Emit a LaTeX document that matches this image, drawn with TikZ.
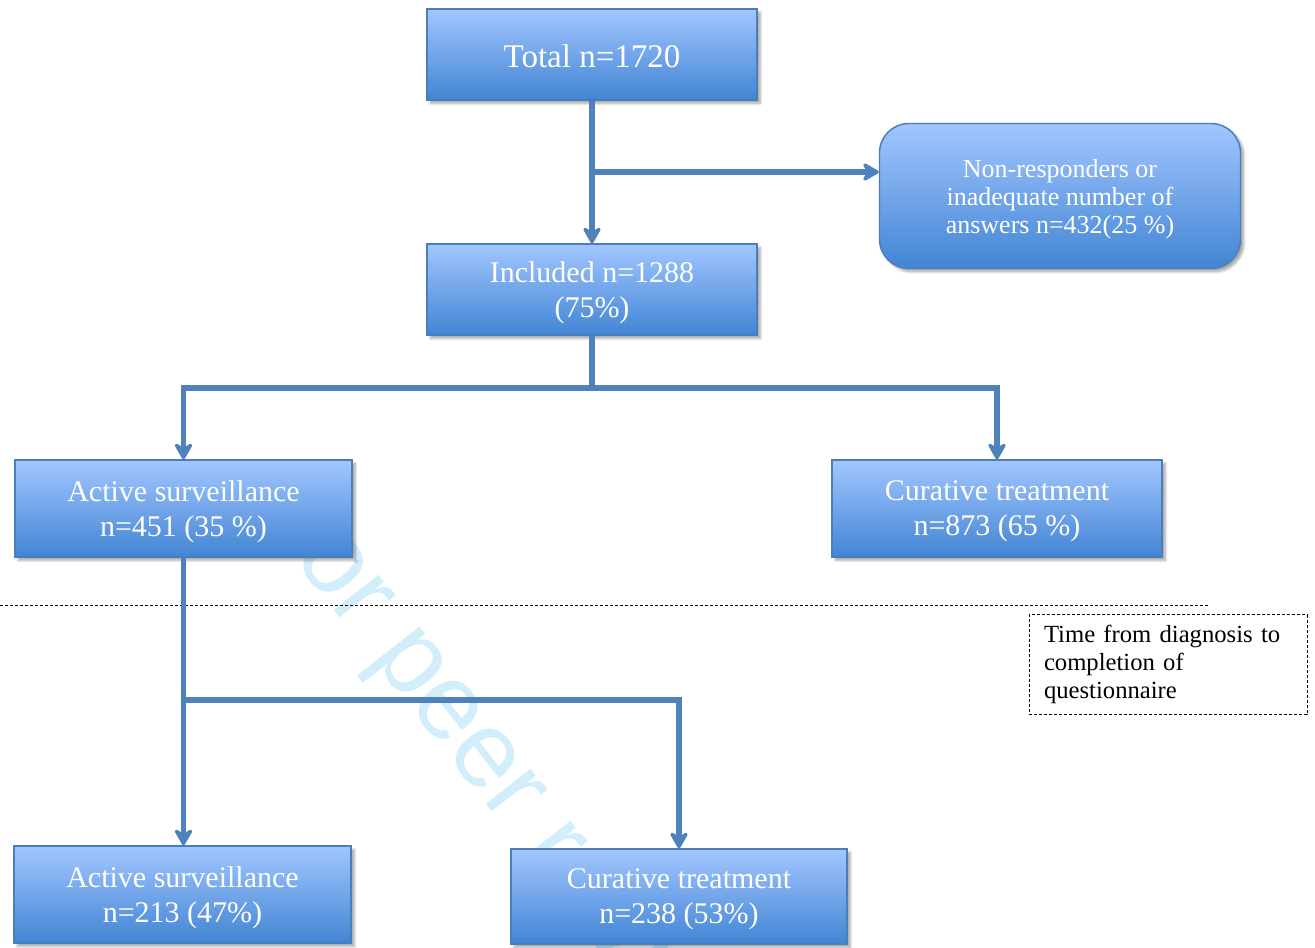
\documentclass[tikz,border=0pt]{standalone}
\usepackage{fontspec}
\setmainfont{Liberation Serif}
\newfontfamily\markfont{Liberation Sans}
\usepackage{xcolor}
\usetikzlibrary{arrows.meta}
\usetikzlibrary{shadows.blur}

\definecolor{linkblue}{RGB}{79,129,189}
\definecolor{boxedge}{RGB}{74,126,187}
\definecolor{boxtop}{RGB}{162,198,255}
\definecolor{boxmid}{RGB}{134,180,244}
\definecolor{boxbot}{RGB}{66,133,212}
\definecolor{peercyan}{RGB}{210,238,251}

\tikzset{
  flowbox/.style={draw=boxedge, line width=1.1pt, top color=boxtop, middle color=boxmid, bottom color=boxbot,
    text=white, align=center, inner sep=0pt, text depth=0pt,
    blur shadow={shadow xshift=2.5pt, shadow yshift=-2.5pt, shadow opacity=35, shadow blur steps=6}},
  flowline/.style={draw=linkblue, line width=4pt},
  flowarrow/.style={flowline, -{Stealth[width=17pt,length=15pt,inset=5pt,round]}},
  boxfont/.style={font=\fontsize{22.5}{26.25}\selectfont},
}

\begin{document}
\begin{tikzpicture}[x=0.75pt,y=0.75pt,yscale=-1,xscale=1]
\useasboundingbox (0,0) rectangle (1315,947);

% Text Node (watermark)
\node (peer) [anchor=base west, rotate=-52, inner sep=0pt, text=peercyan, font=\markfont\fontsize{81}{81}\selectfont] at (252,505) {For peer review};

%Flowchart: Process
\node (total) [flowbox, text height=20pt, minimum width=247.5pt, minimum height=68.25pt, font=\fontsize{24.75}{29}\selectfont] at (592,54.5) {Total n=1720};
%Shape: Rounded Rect
\node (nonresp) [flowbox, rounded corners=22pt, minimum width=270.75pt, minimum height=108.75pt, font=\fontsize{19.5}{21}\selectfont] at (1060,196) {Non-responders or\\inadequate number of\\answers n=432(25 \%)};
%Flowchart: Process
\node (incl) [flowbox, boxfont, minimum width=247.5pt, minimum height=68.25pt] at (592,289.5) {Included n=1288\\(75\%)};
%Flowchart: Process
\node (as1) [flowbox, boxfont, minimum width=252.75pt, minimum height=72.75pt] at (183.5,508.5) {Active surveillance\\n=451 (35 \%)};
%Flowchart: Process
\node (ct1) [flowbox, boxfont, minimum width=247.5pt, minimum height=72.75pt] at (997,508.5) {Curative treatment\\n=873 (65 \%)};
%Flowchart: Process
\node (as2) [flowbox, boxfont, minimum width=252.75pt, minimum height=72.75pt] at (182.5,894.5) {Active surveillance\\n=213 (47\%)};
%Flowchart: Process
\node (ct2) [flowbox, boxfont, minimum width=252pt, minimum height=71.25pt] at (679,896.5) {Curative treatment\\n=238 (53\%)};

% Text Node
\node (timenote) [draw, line width=0.75pt, dash pattern=on 2.25pt off 1.5pt, minimum height=75pt, inner xsep=11.25pt, text width=186pt, align=left, font=\fontsize{18.5}{21}\selectfont] at (1168,664.5) {Time from diagnosis to\\completion of\\questionnaire};

%Straight Lines
\coordinate (sepL) at (0,605);
\coordinate (sepR) at (1210,605);
\draw [line width=0.75pt, dash pattern=on 2.25pt off 1.5pt] (sepL) -- (sepR);

%Straight Lines
\coordinate (split0) at (592,172);
\coordinate (split1) at (592,388);
\coordinate (split2) at (184,700);
\draw [flowarrow] (total.south) -- (incl.north);
\draw [flowarrow] (split0) -- (split0 -| nonresp.west);
\draw [flowline] (incl.south) -- (split1);
\draw [flowarrow] (split1) -| (as1.north);
\draw [flowarrow] (split1) -| (ct1.north);
\draw [flowarrow] (as1.south) -- (as1.south |- as2.north);
\draw [flowarrow] (split2) -| (ct2.north);

\end{tikzpicture}
\end{document}
